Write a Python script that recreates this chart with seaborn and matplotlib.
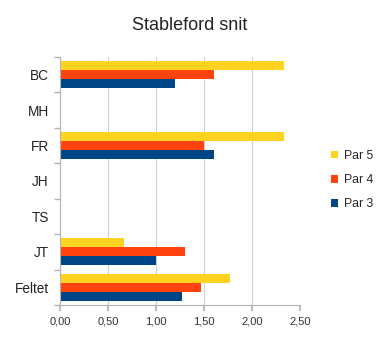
import matplotlib
matplotlib.use("Agg")
import matplotlib.pyplot as plt
import seaborn as sns
import pandas as pd
from matplotlib.ticker import FuncFormatter

players = ["BC", "MH", "FR", "JH", "TS", "JT", "Feltet"]
par5 = [2.33, 0, 2.33, 0, 0, 0.67, 1.77]
par4 = [1.60, 0, 1.50, 0, 0, 1.30, 1.47]
par3 = [1.20, 0, 1.60, 0, 0, 1.00, 1.27]
series = ["Par 5", "Par 4", "Par 3"]
colors = ["#FFD320", "#FF420E", "#004586"]

rows = []
for name, vals in zip(series, [par5, par4, par3]):
    for p, v in zip(players, vals):
        rows.append({"Spiller": p, "Serie": name, "Snit": v})
df = pd.DataFrame(rows)

sns.set_theme(style="white")
plt.rcParams["font.family"] = ["Liberation Sans", "DejaVu Sans"]

fig = plt.figure(figsize=(3.81, 3.45), dpi=100)
ax = fig.add_axes([60/381, 1 - 305/345, 240/381, 248/345])

sns.barplot(data=df, y="Spiller", x="Snit", hue="Serie", order=players,
            hue_order=series, palette=colors, orient="h", width=0.77,
            saturation=1, ax=ax, edgecolor="none", linewidth=0)

ax.set_xlim(0, 2.5)
ax.set_xticks([0, 0.5, 1.0, 1.5, 2.0, 2.5])
ax.xaxis.set_major_formatter(FuncFormatter(lambda v, p: f"{v:.2f}".replace(".", ",")))
ax.grid(axis="x", color="#d0d0d0", linewidth=0.8)
ax.set_axisbelow(True)
ax.set_xlabel("")
ax.set_ylabel("")
for s in ["top", "right"]:
    ax.spines[s].set_visible(False)
for s in ["left", "bottom"]:
    ax.spines[s].set_color("#b3b3b3")
    ax.spines[s].set_linewidth(0.8)

ax.tick_params(axis="x", labelsize=8, colors="#b3b3b3", labelcolor="#333333",
               length=4, direction="out", bottom=True, pad=4)
ax.tick_params(axis="y", labelsize=9.8, labelcolor="#222222", length=0, pad=8)
ax.set_yticks([i - 0.5 for i in range(len(players) + 1)], minor=True)
ax.tick_params(axis="y", which="minor", length=4, color="#b3b3b3", left=True)
ax.set_ylim(len(players) - 0.5, -0.5)

fig.text(190/381, 1 - 25/345, "Stableford snit", ha="center", va="center",
         fontsize=13, color="#222222")

handles, labels = ax.get_legend_handles_labels()
ax.legend(handles, labels, loc="center left", bbox_to_anchor=(320/381, 1 - 180/345),
          bbox_transform=fig.transFigure, frameon=False, fontsize=8.8,
          handlelength=0.6, handleheight=0.6, handletextpad=0.5, labelspacing=1.0)

fig.savefig("out.png", dpi=100)
